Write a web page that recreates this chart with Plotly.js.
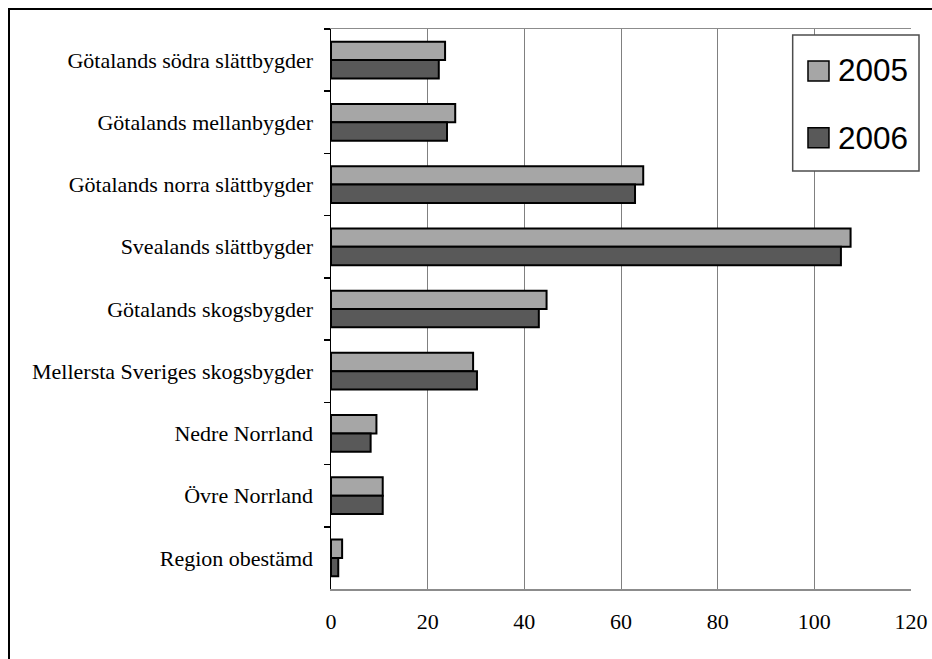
<!DOCTYPE html>
<html>
<head>
<meta charset="utf-8">
<script src="https://cdn.plot.ly/plotly-3.0.1.min.js"></script>
<style>
  html, body { margin: 0; padding: 0; background: #ffffff; overflow: hidden; }
  #chart { position: absolute; left: 0; top: 0; width: 932px; height: 659px; }
  #frame { position: absolute; left: 8px; top: 8px; width: 1000px; height: 1000px;
           border-left: 2px solid #000; border-top: 2px solid #000; pointer-events: none; }
</style>
</head>
<body>
<div id="chart"></div>
<div id="frame"></div>
<script>
// ---- data ----
const categories = [
  "Götalands södra slättbygder",
  "Götalands mellanbygder",
  "Götalands norra slättbygder",
  "Svealands slättbygder",
  "Götalands skogsbygder",
  "Mellersta Sveriges skogsbygder",
  "Nedre Norrland",
  "Övre Norrland",
  "Region obestämd"
];
const values2005 = [23.6, 25.7, 64.6, 107.5, 44.6, 29.4, 9.4, 10.7, 2.3];
const values2006 = [22.3, 24.0, 62.9, 105.5, 43.0, 30.2, 8.2, 10.7, 1.5];
const seriesNames = ["2005", "2006"];
const xTickVals = [0, 20, 40, 60, 80, 100, 120];

// ---- styles ----
const colLight = "#a6a6a6";
const colDark = "#595959";
const serif = "Liberation Serif, Times New Roman, serif";
const sans = "Liberation Sans, Arial, sans-serif";

const traces = [
  {
    type: "bar", orientation: "h", name: seriesNames[0],
    y: categories, x: values2005,
    marker: { color: colLight, line: { color: "#000", width: 2 } },
    showlegend: false, hoverinfo: "x+y+name"
  },
  {
    type: "bar", orientation: "h", name: seriesNames[1],
    y: categories, x: values2006,
    marker: { color: colDark, line: { color: "#000", width: 2 } },
    showlegend: false, hoverinfo: "x+y+name"
  }
];

// manual legend (box, swatches, labels) in paper coordinates
const legBox = { x0: 0.796, x1: 1.0138, y0: 0.7464, y1: 0.9893 };
const swatchX = [0.8224, 0.8586];
const swatchY = [[0.9071, 0.9429], [0.788, 0.8238]];
const labelY = [0.9259, 0.806];
const labelX = 0.870;

const shapes = [
  { type: "rect", xref: "paper", yref: "paper", x0: legBox.x0, x1: legBox.x1, y0: legBox.y0, y1: legBox.y1,
    fillcolor: "#ffffff", line: { color: "#4d4d4d", width: 1.5 }, layer: "above" },
  { type: "rect", xref: "paper", yref: "paper", x0: swatchX[0], x1: swatchX[1], y0: swatchY[0][0], y1: swatchY[0][1],
    fillcolor: colLight, line: { color: "#000", width: 1.5 }, layer: "above" },
  { type: "rect", xref: "paper", yref: "paper", x0: swatchX[0], x1: swatchX[1], y0: swatchY[1][0], y1: swatchY[1][1],
    fillcolor: colDark, line: { color: "#000", width: 1.5 }, layer: "above" }
];
const annotations = seriesNames.map((n, i) => ({
  xref: "paper", yref: "paper", x: labelX, y: labelY[i], text: n,
  xanchor: "left", yanchor: "middle", showarrow: false,
  font: { family: sans, size: 31.5, color: "#000" }
}));

const layout = {
  width: 932, height: 659,
  margin: { l: 331, r: 21, t: 29, b: 70 },
  paper_bgcolor: "#ffffff", plot_bgcolor: "#ffffff",
  barmode: "group", bargap: 0.41, bargroupgap: 0,
  showlegend: false,
  xaxis: {
    range: [0, 120], tickvals: xTickVals, ticktext: xTickVals.map(String),
    showgrid: true, gridcolor: "#808080", gridwidth: 1,
    showline: true, linecolor: "#8c8c8c", linewidth: 1.5, mirror: true,
    zeroline: false, ticks: "", ticklabelstandoff: 12,
    tickfont: { family: serif, size: 22, color: "#000" },
    fixedrange: true
  },
  yaxis: {
    type: "category", autorange: "reversed",
    showgrid: false, zeroline: false,
    showline: true, linecolor: "#000", linewidth: 1.5,
    ticks: "outside", tickson: "boundaries", ticklen: 6, tickwidth: 1.5, tickcolor: "#000",
    ticklabelstandoff: 12,
    tickfont: { family: serif, size: 22, color: "#000" },
    fixedrange: true
  },
  shapes: shapes,
  annotations: annotations
};

Plotly.newPlot("chart", traces, layout, { displayModeBar: false, staticPlot: true });
</script>
</body>
</html>
